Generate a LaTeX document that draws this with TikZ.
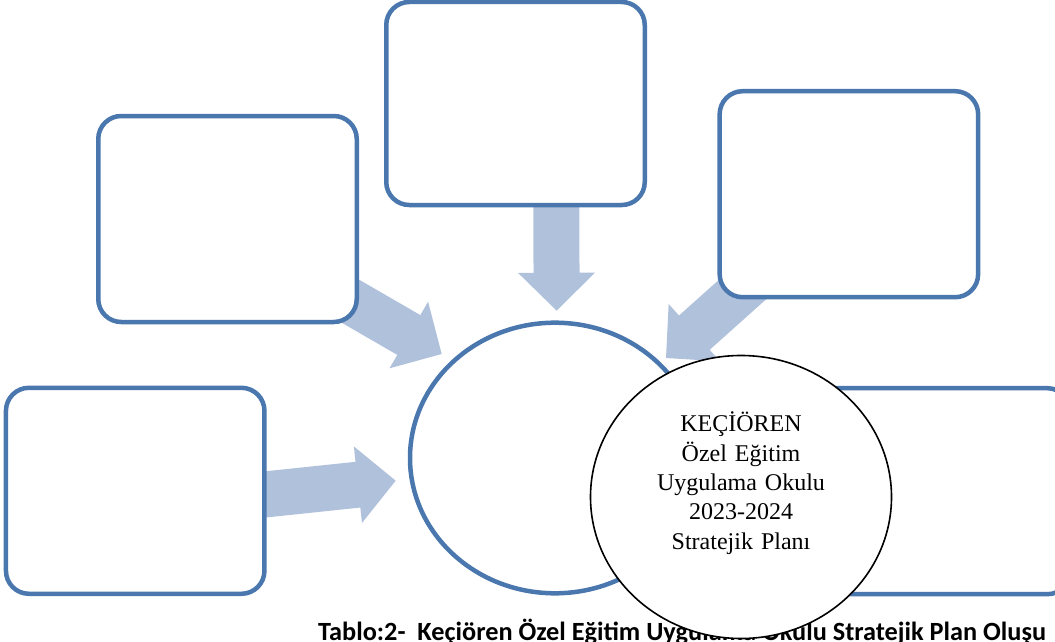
\documentclass[tikz,border=0pt]{standalone}
\usepackage{fontspec}
\setmainfont{Liberation Serif}
\newfontfamily\capfont{Carlito}
\usetikzlibrary{calc,shapes.geometric}
\definecolor{boxblue}{RGB}{74,119,174}
\definecolor{arrowfill}{RGB}{176,193,220}
\tikzset{
  box/.style={draw=boxblue, line width=4.5pt, fill=white, rounded corners=23pt,
    minimum width=258.5pt, minimum height=206pt, inner sep=0pt},
  blueoval/.style={ellipse, draw=boxblue, line width=4.5pt, fill=white, inner sep=0pt},
  blackoval/.style={ellipse, draw=black, line width=1.6pt, fill=white, inner sep=0pt},
  centertext/.style={font=\fontsize{24}{29.4}\selectfont, text width=220pt, align=center, inner sep=0pt},
  captext/.style={font=\capfont\bfseries\fontsize{26.3}{30}\selectfont, inner sep=0pt}
}
\newcommand{\blockarrow}[2]{%
  \coordinate (hb) at ($(#2)!38pt!(#1)$);
  \fill[arrowfill] ($(#1)!23pt!90:(#2)$) -- ($(hb)!23pt!-90:(#1)$) -- ($(hb)!38.5pt!-90:(#1)$)
    -- (#2) -- ($(hb)!38.5pt!90:(#1)$) -- ($(hb)!23pt!90:(#1)$) -- ($(#1)!23pt!-90:(#2)$) -- cycle;
}
\begin{document}
\begin{tikzpicture}[x=1pt,y=-1pt]
\useasboundingbox (0,0) rectangle (1055,642);
% arrow tails and tips
\coordinate (tailT) at (556,150);   \coordinate (tipT) at (556.7,310.7);
\coordinate (tailLU) at (329.3,289); \coordinate (tipLU) at (441.7,354);
\coordinate (tailRU) at (777.8,258); \coordinate (tipRU) at (666,358);
\coordinate (tailLL) at (246.6,496.4); \coordinate (tipLL) at (395.7,480.7);
\blockarrow{tailT}{tipT}
\blockarrow{tailLU}{tipLU}
\blockarrow{tailRU}{tipRU}
\blockarrow{tailLL}{tipLL}
% boxes
\node[box, minimum height=203pt] (bT) at (515.5,103.5) {};
\node[box] (bLU) at (227.5,219) {};
\node[box] (bRU) at (848.9,194.2) {};
\node[box] (bLL) at (135.2,490.8) {};
\node[box] (bRL) at (941,491.2) {};
% blue oval
\node[blueoval, minimum width=290pt, minimum height=270.6pt] (core) at (555,458) {};
% caption
\node[captext, anchor=base west] (cap) at (318,640) {Tablo:2-\ \ Keçiören Özel Eğitim Uygulama Okulu Stratejik Plan Oluşu};
% black oval with text
\node[blackoval, minimum width=301pt, minimum height=283pt] (plan) at (741,497) {};
\node[centertext, anchor=base] (plantext) at (741,431.7) {KEÇİÖREN\\Özel Eğitim\\Uygulama Okulu\\2023-2024\\Stratejik Planı};
\end{tikzpicture}
\end{document}
